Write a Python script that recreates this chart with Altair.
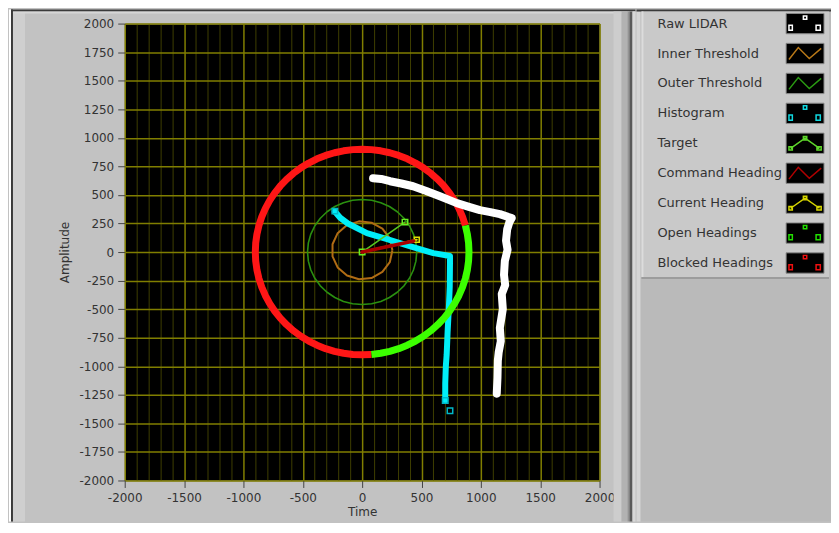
import altair as alt
import pandas as pd

# ---------------- data ----------------
x_grid_values = list(range(-2000, 2001, 100))
y_ticks = list(range(-2000, 2001, 250))

# Raw LIDAR (white)
lidar_x = [92, 160, 235, 330, 429, 540, 655, 798, 900, 992, 1080, 1160, 1260,
           1240, 1222, 1212, 1225, 1202, 1195, 1205, 1176, 1185, 1160, 1168,
           1150, 1143, 1140, 1134]
lidar_y = [646, 640, 620, 600, 576, 535, 489, 428, 395, 367, 350, 332, 297,
           260, 200, 100, 20, -79, -200, -290, -367, -500, -664, -780,
           -880, -952, -1100, -1240]

# Histogram (cyan)
hist_x = [-230, -185, -120, 40, 210, 400, 600, 740, 740, 738, 730, 720, 712, 705, 700, 700]
hist_y = [355, 300, 250, 165, 112, 52, -10, -35, -100, -300, -500, -700, -900, -1000, -1150, -1300]
hist_mark_x = [-230, 700, 740]
hist_mark_y = [358, -1300, -1389]

# Target, Command heading, Current heading (from origin)
target_x = [0, 361]
target_y = [0, 262]
command_x = [0, 435]
command_y = [0, 97]
current_x = [0, 460]
current_y = [0, 108]

# Thresholds (radius, centre) and polar obstacle ring
inner_r, inner_cx, inner_cy = 255, 0, 15
inner_angles = list(range(0, 361, 24))
outer_r, outer_cx, outer_cy = 460, 0, 0
outer_angles = list(range(0, 361, 10))
ring_r = 900
open_headings = list(range(-85, 16, 5))
blocked_headings = list(range(15, 276, 5))

legend_labels = ["Raw LIDAR", "Inner Threshold", "Outer Threshold", "Histogram",
                 "Target", "Command Heading", "Current Heading", "Open Headings",
                 "Blocked Headings"]
legend_kind = ["points", "line", "line", "points", "linepoints", "line",
               "linepoints", "points", "points"]

# ---------------- styles ----------------
legend_colors = ["#ffffff", "#b87818", "#2a9a12", "#10d8e0", "#5ed62a",
                 "#b00000", "#d6d600", "#22dd00", "#ee1010"]
FONT = "DejaVu Sans"
TXT = "#333333"
BOTTOM = 499  # bottom of the panel, relative to the plot top

x_axis = alt.Axis(
    values=x_grid_values, grid=True,
    gridColor={"condition": {"test": "datum.value % 500 === 0", "value": "#807e00"},
               "value": "#3e3e00"},
    gridWidth={"condition": {"test": "datum.value % 500 === 0", "value": 1.5}, "value": 1},
    tickOpacity={"condition": {"test": "datum.value % 500 === 0", "value": 1}, "value": 0},
    labelExpr="datum.value % 500 === 0 ? '' + datum.value : ''",
    tickSize=7, tickColor="#444444", labelPadding=5, labelFontSize=12,
    labelFlush=False, labelOverlap=False, domain=False,
    title="Time", titleFontSize=12, titleFontWeight="normal", titlePadding=3,
)
y_axis = alt.Axis(
    values=y_ticks, grid=True, gridColor="#807e00", gridWidth=1.5,
    labelExpr="'' + datum.value", tickSize=7, tickColor="#444444",
    labelPadding=4, labelFontSize=12, labelFlush=False, labelOverlap=False,
    domain=False, title="Amplitude", titleFontSize=12, titleFontWeight="normal",
    titleX=-60, titleY=229, titleBaseline="middle", titleAlign="center",
)
XS = alt.Scale(domain=[-2000, 2000], nice=False, zero=False)
YS = alt.Scale(domain=[-2000, 2000], nice=False, zero=False)


def X():
    return alt.X("x:Q", scale=XS, axis=x_axis)


def Y():
    return alt.Y("y:Q", scale=YS, axis=y_axis)


one = pd.DataFrame({"k": [0]})


def deco(x0, x1, y0, y1, color):
    return alt.Chart(one).mark_rect(color=color).encode(
        x=alt.value(x0), x2=alt.value(x1), y=alt.value(y0), y2=alt.value(y1))


def path_line(xs, ys, color, width, **kw):
    df = pd.DataFrame({"x": xs, "y": ys, "i": list(range(len(xs)))})
    return alt.Chart(df).mark_line(color=color, strokeWidth=width,
                                   strokeJoin="round", strokeCap="round", **kw).encode(
        x=X(), y=Y(), order="i:Q")


def markers(xs, ys, color, size, filled=False):
    df = pd.DataFrame({"x": xs, "y": ys})
    return alt.Chart(df).mark_point(shape="square", color=color, size=size,
                                    filled=filled, strokeWidth=1.5, opacity=1).encode(
        x=X(), y=Y())


def polar(angles, r, cx, cy, color, width):
    df = pd.DataFrame({"angle": angles})
    return alt.Chart(df).transform_calculate(
        x=f"{cx} + {r}*cos(datum.angle*PI/180)",
        y=f"{cy} + {r}*sin(datum.angle*PI/180)",
    ).mark_line(color=color, strokeWidth=width, strokeJoin="round").encode(
        x=X(), y=Y(), order="angle:Q")


# plot view origin is page (124, 22); decorations expressed relative to it
decor = [
    deco(-116, -114, -14, BOTTOM, "#ffffff"),
    deco(-114, -112, -14, BOTTOM, "#3a3a3a"),
    deco(-112, -100, -12, BOTTOM, "#cfcfcf"),
    deco(-114, 512, -14, -12, "#3a3a3a"),
    deco(-112, 512, -12, -10, "#d6d6d6"),
    deco(490, 498, -12, BOTTOM, "#cdcdcd"),
    deco(498, 504, -12, BOTTOM, "#b2b2b2"),
    deco(504, 506, -12, BOTTOM, "#949494"),
    deco(506, 509, -12, BOTTOM, "#5a5a5a"),
    deco(509, 512, -12, BOTTOM, "#d8d8d8"),
]

plot_layers = decor + [
    polar(inner_angles, inner_r, inner_cx, inner_cy, "#b06c14", 2),
    polar(outer_angles, outer_r, outer_cx, outer_cy, "#2a9010", 1.6),
    path_line(hist_x, hist_y, "#00eef8", 6),
    markers(hist_mark_x, hist_mark_y, "#00b8c8", 30),
    path_line(target_x, target_y, "#55c820", 1.6),
    markers(target_x, target_y, "#66ee22", 30),
    path_line(current_x, current_y, "#d6d600", 2),
    markers(current_x[1:], current_y[1:], "#e0e000", 25),
    path_line(command_x, command_y, "#a80000", 3.5),
    polar(blocked_headings, ring_r, 0, 0, "#ff1616", 7),
    polar(open_headings, ring_r, 0, 0, "#3cff00", 7),
    path_line(lidar_x, lidar_y, "#ffffff", 8),
]

plot = alt.layer(*plot_layers).properties(
    width=476, height=458,
    view=alt.ViewBackground(fill="#000000", stroke="#9a9a9a", strokeWidth=1),
)

# ---------------- legend panel ----------------
leg_df = pd.DataFrame({"label": legend_labels, "kind": legend_kind,
                       "row": list(range(len(legend_labels)))})
LY = alt.Scale(domain=[0, 9], reverse=True, nice=False, zero=False)
CS = alt.Scale(domain=legend_labels, range=legend_colors)

shapes = {
    "line": "M-0.95,0.35L-0.4,-0.35L0.25,0.3L0.95,-0.3",
    "points": ("M-0.95,0.1h0.2v0.3h-0.2z M-0.1,-0.45h0.2v0.2h-0.2z "
               "M0.65,0.1h0.25v0.3h-0.25z"),
    "linepoints": ("M-0.85,0.3L0,-0.3L0.85,0.3 M-0.95,0.2h0.2v0.2h-0.2z "
                   "M-0.1,-0.4h0.2v0.2h-0.2z M0.7,0.2h0.25v0.2h-0.25z"),
}

LW = 195  # legend panel width
leg_layers = [
    deco(0, LW, -14, BOTTOM, "#bababa"),
    deco(0, 4, -12, BOTTOM, "#d6d6d6"),
    deco(0, LW, -14, -12, "#3a3a3a"),
    deco(5, LW - 2, -12, 254, "#c9c9c9"),
    deco(5, 7, -12, 254, "#dcdcdc"),
    deco(5, LW - 2, 254, 256, "#9c9c9c"),
    alt.Chart(leg_df).transform_calculate(
        y0="datum.row - 0.34", y1="datum.row + 0.34"
    ).mark_rect(fill="#000000", stroke="#8c8c8c", strokeWidth=1).encode(
        x=alt.value(150), x2=alt.value(188),
        y=alt.Y("y0:Q", scale=LY, axis=None), y2="y1:Q"),
    alt.Chart(leg_df).mark_text(align="left", baseline="middle", font=FONT,
                                fontSize=13, color=TXT).encode(
        x=alt.value(21), y=alt.Y("row:Q", scale=LY, axis=None), text="label:N"),
]
for kind, path in shapes.items():
    leg_layers.append(
        alt.Chart(leg_df).transform_filter(f"datum.kind == '{kind}'").mark_point(
            shape=path, filled=False, strokeWidth=1.5, size=1156, opacity=1).encode(
            x=alt.value(169), y=alt.Y("row:Q", scale=LY, axis=None),
            color=alt.Color("label:N", scale=CS, legend=None)))

legend = alt.layer(*leg_layers).properties(width=LW, height=270)

chart = alt.hconcat(plot, legend, spacing=0).properties(
    padding=0, background="#c2c2c2"
).configure_view(strokeWidth=0).configure_axis(
    labelFont=FONT, titleFont=FONT, labelColor=TXT, titleColor=TXT
)

chart.save("out.html", embed_options={"renderer": "svg", "actions": False})
